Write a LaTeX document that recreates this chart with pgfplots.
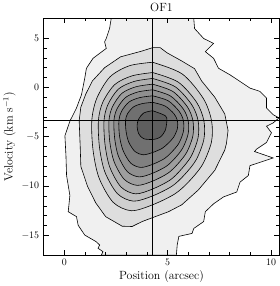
\documentclass[border=0pt]{standalone}
\usepackage{pgfplots}
\pgfplotsset{compat=1.18}
\begin{document}
\begin{tikzpicture}
\begin{axis}[
  scale only axis, width=238pt, height=239pt,
  xmin=-1, xmax=10.4, ymin=-17, ymax=7,
  xtick={0,5,10}, ytick={-15,-10,-5,0,5},
  minor x tick num=4, minor y tick num=4,
  tick align=inside, major tick length=5pt, minor tick length=3pt,
  tick style={black, line width=0.5pt},
  axis line style={black, line width=0.6pt},
  title={OF1}, xlabel={Position (arcsec)}, ylabel={Velocity (km s$^{-1}$)},
  label style={font=\large}, title style={font=\large, yshift=-3pt},
  xlabel style={yshift=2pt},
  ylabel style={yshift=-1pt},
  xticklabel style={yshift=-1pt},
  yticklabel style={xshift=-1pt},
  axis on top,
  contour/.style={draw=black, line width=0.6pt},
]
% level 1 (outermost)
\addplot[contour, fill=black!6] coordinates {
(2.27,7.0) (2.19,5.97) (2.03,4.96) (1.95,4.63) (2.03,3.96) (1.39,2.95) (1.07,1.94) (0.99,0.94) (0.83,-0.75) (0.59,-2.08) (0.27,-3.42) (0.03,-4.9) (0.08,-6.92) (0.11,-8.93) (0.27,-10.95) (0.19,-12.6) (0.59,-13.1) (0.67,-13.97) (0.99,-14.97) (1.55,-15.65) (1.71,-15.98) (1.63,-16.3) (1.87,-16.65) (1.79,-17.0)
(5.42,-17.0) (5.46,-15.98) (5.54,-15.1) (6.18,-14.8) (6.26,-14.3) (6.74,-13.6) (6.82,-12.6) (7.22,-11.8) (7.70,-11.1) (8.34,-10.6) (8.5,-9.6) (8.90,-8.93) (8.98,-7.93) (10.1,-7.15) (9.20,-6.5) (9.30,-6.25) (9.78,-5.58) (9.94,-4.9) (10.02,-4.6) (9.78,-3.93) (10.10,-3.6) (10.38,-3.09) (10.10,-2.76) (9.78,-2.08) (9.78,-1.08) (9.46,-0.4) (8.98,-0.07) (8.50,0.6) (8.02,1.27) (7.46,1.94) (7.22,2.95) (6.82,3.63) (7.22,4.46) (6.74,4.96) (6.30,5.97) (6.26,7.0)
} -- cycle;
% level 2
\addplot[contour, fill=black!13] coordinates {
(4.27,4.03) (4.64,4.03) (4.96,3.52) (5.68,2.68) (6.30,1.9) (6.64,0.66) (7.28,-1.0) (7.76,-2.69) (7.92,-4.37) (7.84,-5.7) (7.76,-6.35) (7.28,-8.4) (6.48,-10.4) (5.68,-11.9) (5.04,-12.6) (4.27,-13.2) (3.76,-13.6) (3.28,-14.1) (2.80,-14.07) (2.0,-13.1) (1.52,-11.7) (1.12,-10.0) (0.80,-8.0) (0.77,-6.0) (0.75,-5.0) (0.72,-3.36) (0.80,-2.0) (1.04,-0.67) (1.36,0.66) (1.95,2.0) (2.72,3.1) (3.76,3.69)
} -- cycle;
% level 3
\addplot[contour, fill=black!19, smooth] coordinates {
(4.27,2.55) (5.70,1.37) (6.72,-1.11) (7.12,-3.36) (7.12,-5.50) (6.69,-7.80) (6.04,-9.51) (5.35,-10.79) (4.27,-11.90) (3.24,-12.50) (2.36,-11.64) (1.68,-9.17) (1.39,-6.35) (1.33,-3.36) (1.57,-1.11) (2.21,1.07) (3.15,2.20) (4.27,2.55)
};
% level 4
\addplot[contour, fill=black!25, smooth] coordinates {
(4.27,1.51) (5.51,0.54) (6.40,-1.51) (6.75,-3.36) (6.75,-5.27) (6.38,-7.33) (5.81,-8.86) (5.21,-10.01) (4.27,-11.00) (3.35,-11.53) (2.57,-10.77) (1.96,-8.56) (1.70,-6.03) (1.65,-3.36) (1.86,-1.51) (2.44,0.29) (3.27,1.17) (4.27,1.51)
};
% level 5
\addplot[contour, fill=black!31, smooth] coordinates {
(4.27,0.91) (5.37,0.06) (6.16,-1.74) (6.47,-3.36) (6.47,-5.10) (6.14,-6.97) (5.63,-8.36) (5.11,-9.40) (4.27,-10.30) (3.45,-10.79) (2.74,-10.09) (2.20,-8.08) (1.97,-5.79) (1.92,-3.36) (2.11,-1.74) (2.62,-0.16) (3.38,0.61) (4.27,0.91)
};
% level 6
\addplot[contour, fill=black!38, smooth] coordinates {
(4.27,0.33) (5.25,-0.41) (5.95,-1.96) (6.22,-3.36) (6.22,-4.90) (5.93,-6.55) (5.48,-7.78) (5.01,-8.70) (4.27,-9.50) (3.53,-9.93) (2.90,-9.32) (2.41,-7.54) (2.20,-5.51) (2.16,-3.36) (2.33,-1.96) (2.79,-0.59) (3.47,0.07) (4.27,0.33)
};
% level 7
\addplot[contour, fill=black!44, smooth] coordinates {
(4.27,-0.24) (5.13,-0.86) (5.75,-2.17) (5.99,-3.36) (5.99,-4.70) (5.73,-6.14) (5.34,-7.20) (4.92,-8.01) (4.27,-8.70) (3.62,-9.07) (3.05,-8.54) (2.62,-6.99) (2.44,-5.23) (2.40,-3.36) (2.55,-2.17) (2.96,-1.02) (3.56,-0.46) (4.27,-0.24)
};
% level 8
\addplot[contour, fill=black!50, smooth] coordinates {
(4.27,-0.85) (5.02,-1.35) (5.55,-2.41) (5.76,-3.36) (5.76,-4.47) (5.54,-5.67) (5.19,-6.56) (4.84,-7.22) (4.27,-7.80) (3.70,-8.11) (3.21,-7.67) (2.84,-6.38) (2.67,-4.91) (2.64,-3.36) (2.77,-2.41) (3.13,-1.48) (3.65,-1.03) (4.27,-0.85)
};
% level 9
\addplot[contour, fill=black!56, smooth] coordinates {
(4.27,-1.51) (4.87,-1.88) (5.30,-2.66) (5.47,-3.36) (5.47,-4.17) (5.29,-5.04) (5.01,-5.69) (4.73,-6.18) (4.27,-6.60) (3.81,-6.83) (3.42,-6.50) (3.12,-5.56) (2.99,-4.49) (2.96,-3.36) (3.06,-2.66) (3.35,-1.97) (3.77,-1.64) (4.27,-1.51)
};
% level 10 (innermost)
\addplot[contour, fill=black!63, smooth] coordinates {
(4.27,-2.36) (4.88,-2.86) (4.96,-3.36) (4.88,-4.37) (4.64,-5.04) (4.32,-5.27) (3.84,-5.20) (3.60,-4.70) (3.52,-3.86) (3.60,-3.20) (3.84,-2.59) (4.27,-2.36)
};
% reference lines
\addplot[black, line width=0.6pt] coordinates {(4.27,-17) (4.27,7)};
\addplot[black, line width=0.6pt] coordinates {(-1,-3.36) (10.4,-3.36)};
\end{axis}
\end{tikzpicture}
\end{document}
